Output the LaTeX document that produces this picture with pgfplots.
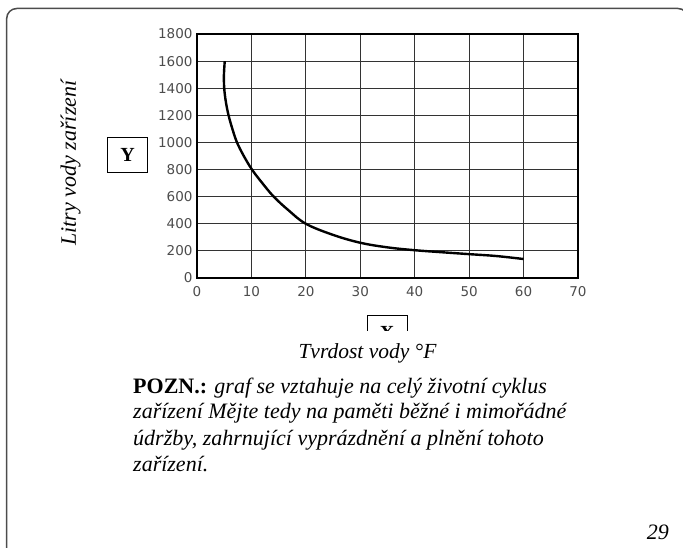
\documentclass[border=0pt]{standalone}
\usepackage{pgfplots}
\pgfplotsset{compat=1.18}
\usepackage{fontspec}
\setmainfont{Liberation Serif}
\newfontfamily\tickfont{DejaVu Sans}
\begin{document}
\begin{tikzpicture}
\useasboundingbox (0pt,0pt) rectangle (683pt,547pt);
\begin{axis}[at={(197pt,269pt)}, anchor=south west, width=381pt, height=244pt, scale only axis,
  xmin=0, xmax=70, ymin=0, ymax=1800,
  xtick={0,10,...,70}, ytick={0,200,...,1800},
  grid=major, grid style={black!80, line width=0.8pt},
  axis line style={line width=1.6pt},
  tick style={draw=none},
  ticklabel style={font=\tickfont\fontsize{13.5}{13.5}\selectfont, text=black!70},
  /pgf/number format/assume math mode=true,
  /pgf/number format/set thousands separator={},
  scaled ticks=false,
  xticklabel style={yshift=-5pt},
  yticklabel style={xshift=-1pt}]
\addplot[line width=2.4pt, smooth, tension=0.6] coordinates {
(5.1,1600) (4.95,1500) (5.0,1400) (5.3,1300) (5.8,1200) (6.5,1100) (7.35,1000)
(8.6,900) (10.1,800) (12,700) (14.1,600) (16.8,500) (20,400) (25,318) (30,260)
(35,226) (40,205) (45,190) (50,176) (55,162) (60,140)};
\end{axis}
\begin{scope}[x=1pt,y=1pt]
\draw[black!70, line width=1.5pt, rounded corners=10pt] (6.7,-20) -- (6.7,538.5) -- (688,538.5) -- (688,-20);
\node[draw, line width=0.8pt, minimum width=40pt, minimum height=35pt, inner sep=0pt,
  font=\bfseries\fontsize{20}{20}\selectfont] at (127.5,392.5) {Y};
\node[rotate=90, font=\itshape\fontsize{22}{22}\selectfont] at (70.5,384) {Litry vody zařízení};
\node[draw, line width=0.8pt, minimum width=40pt, minimum height=35pt, inner sep=0pt,
  font=\bfseries\fontsize{20}{20}\selectfont] at (387,214.5) {X};
\fill[white] (355,216) rectangle (420,192);
\node[anchor=base, font=\itshape\fontsize{21.5}{21.5}\selectfont, inner sep=0pt] at (367.5,189) {Tvrdost vody °F};
\begin{scope}[every node/.style={anchor=base west, inner sep=0pt, font=\itshape\fontsize{22}{22}\selectfont}]
\node at (133,154) {\textbf{\upshape POZN.:} graf se vztahuje na celý životní cyklus};
\node at (133,128.5) {zařízení Mějte tedy na paměti běžné i mimořádné};
\node at (133,102) {údržby, zahrnující vyprázdnění a plnění tohoto};
\node at (133,76) {zařízení.};
\end{scope}
\node[anchor=base east, inner sep=0pt, font=\itshape\fontsize{22}{22}\selectfont] at (669,8) {29};
\end{scope}
\end{tikzpicture}
\end{document}
